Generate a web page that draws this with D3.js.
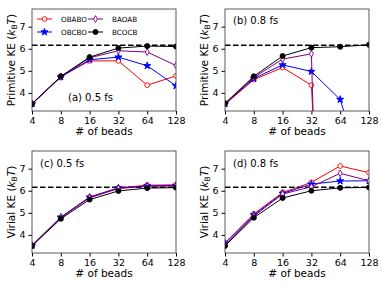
<!DOCTYPE html>
<html>
<head>
<meta charset="utf-8">
<script src="https://cdn.jsdelivr.net/npm/d3@7"></script>
<style>
  body { margin: 0; background: #fff; }
  text { font-family: "DejaVu Sans", sans-serif; fill: #000; }
</style>
</head>
<body>
<svg id="chart" width="382" height="283"></svg>
<script>
var beads = [4, 8, 16, 32, 64, 128];
var xTicks = [4, 8, 16, 32, 64, 128];
var yTicks = [4, 5, 6, 7];
var reference = 6.16;

// primitive KE, 0.5 fs
var primA = {
  OBABO: [3.52, 4.74, 5.45, 5.45, 4.35, 4.77],
  OBCBO: [3.5, 4.72, 5.5, 5.62, 5.23, 4.32],
  BAOAB: [3.5, 4.72, 5.59, 5.91, 5.85, 5.24],
  BCOCB: [3.5, 4.75, 5.62, 6.03, 6.12, 6.1]
};
// primitive KE, 0.8 fs
var primB = {
  OBABO: [3.48, 4.6, 5.15, 4.35, -20, -25],
  OBCBO: [3.5, 4.65, 5.27, 4.97, 3.7, -0.5],
  BAOAB: [3.5, 4.7, 5.53, 5.77, -40, -45],
  BCOCB: [3.53, 4.75, 5.67, 6.05, 6.09, 6.18]
};
// virial KE, 0.5 fs
var virC = {
  OBABO: [3.52, 4.8, 5.72, 6.13, 6.25, 6.27],
  OBCBO: [3.52, 4.8, 5.7, 6.12, 6.22, 6.24],
  BAOAB: [3.52, 4.78, 5.68, 6.1, 6.2, 6.22],
  BCOCB: [3.5, 4.73, 5.6, 5.99, 6.12, 6.14]
};
// virial KE, 0.8 fs
var virD = {
  OBABO: [3.64, 4.95, 5.92, 6.38, 7.12, 6.82],
  OBCBO: [3.62, 4.9, 5.88, 6.3, 6.44, 6.45],
  BAOAB: [3.55, 4.85, 5.85, 6.18, 6.79, 6.45],
  BCOCB: [3.5, 4.78, 5.67, 6.0, 6.13, 6.15]
};

var series = [
  {name: "OBABO", color: "red", sym: d3.symbolCircle, size: 18, filled: false},
  {name: "OBCBO", color: "blue", sym: d3.symbolStar, size: 16, filled: true},
  {name: "BAOAB", color: "purple", sym: d3.symbolDiamond, size: 13, filled: false},
  {name: "BCOCB", color: "black", sym: d3.symbolCircle, size: 20, filled: true}
];

var panels = [
  {data: primA, x: 32, y: 9, label: "(a) 0.5 fs", lx: 36, ly: 92, ylab: "Primitive KE", legend: true},
  {data: primB, x: 225, y: 9, label: "(b) 0.8 fs", lx: 8, ly: 15, ylab: "Primitive KE"},
  {data: virC, x: 32, y: 151, label: "(c) 0.5 fs", lx: 8, ly: 16, ylab: "Virial KE"},
  {data: virD, x: 225, y: 151, label: "(d) 0.8 fs", lx: 8, ly: 16, ylab: "Virial KE"}
];

var W = 144, H = 102;
var svg = d3.select("#chart");

var x = d3.scaleLog().base(2).domain([4, 128]).range([0, W]);
var y = d3.scaleLinear().domain([3.18, 7.8]).range([H, 0]);

panels.forEach(function(p, i) {
  var g = svg.append("g").attr("transform", "translate(" + p.x + "," + p.y + ")");

  g.append("clipPath").attr("id", "clip" + i)
    .append("rect").attr("width", W).attr("height", H);

  var xa = g.append("g").attr("transform", "translate(0," + H + ")")
    .call(d3.axisBottom(x).tickValues(xTicks).tickFormat(d3.format("d")).tickSizeOuter(0).tickSize(3.5));
  var ya = g.append("g")
    .call(d3.axisLeft(y).tickValues(yTicks).tickFormat(d3.format("d")).tickSizeOuter(0).tickSize(3.5));
  [xa, ya].forEach(function(a) {
    a.select(".domain").remove();
    a.selectAll("text").style("font-family", "DejaVu Sans").style("font-size", "9.5px");
  });

  g.append("text").attr("x", W / 2).attr("y", H + 24).attr("text-anchor", "middle")
    .style("font-size", "10.5px").text("# of beads");

  var yl = g.append("text").attr("transform", "translate(-17," + (H / 2) + ") rotate(-90)")
    .attr("text-anchor", "middle").style("font-size", "10.5px");
  yl.append("tspan").text(p.ylab + " (");
  yl.append("tspan").style("font-style", "italic").text("k");
  yl.append("tspan").attr("dy", 2).style("font-size", "7.5px").text("B");
  yl.append("tspan").attr("dy", -2).style("font-style", "italic").text("T");
  yl.append("tspan").text(")");

  var plot = g.append("g").attr("clip-path", "url(#clip" + i + ")");

  plot.append("line")
    .attr("x1", x(4)).attr("x2", x(128))
    .attr("y1", y(reference)).attr("y2", y(reference))
    .attr("stroke", "black").attr("stroke-width", 1.6)
    .attr("stroke-dasharray", "5.5,2.5");

  var line = d3.line().x(function(d, k) { return x(beads[k]); }).y(function(d) { return y(d); });

  series.forEach(function(s) {
    var vals = p.data[s.name];
    plot.append("path").datum(vals).attr("d", line)
      .attr("fill", "none").attr("stroke", s.color).attr("stroke-width", 1);
    plot.selectAll(null).data(vals).enter().append("path")
      .attr("transform", function(d, k) { return "translate(" + x(beads[k]) + "," + y(d) + ")"; })
      .attr("d", d3.symbol().type(s.sym).size(s.size))
      .attr("fill", s.filled ? s.color : "white")
      .attr("stroke", s.color).attr("stroke-width", 0.9);
  });

  g.append("rect").attr("width", W).attr("height", H)
    .attr("fill", "none").attr("stroke", "#333").attr("stroke-width", 0.8);

  g.append("text").attr("x", p.lx).attr("y", p.ly).style("font-size", "10px").text(p.label);

  if (p.legend) {
    var lg = g.append("g").attr("transform", "translate(2,2)");
    lg.append("rect").attr("width", 140).attr("height", 30).attr("rx", 2)
      .attr("fill", "white").attr("fill-opacity", 0.8).attr("stroke", "#eee").attr("stroke-width", 0.8);
    series.forEach(function(s, k) {
      var cx = Math.floor(k / 2) * 51 + 3, cy = 8 + (k % 2) * 13;
      var item = lg.append("g").attr("transform", "translate(" + cx + "," + cy + ")");
      item.append("line").attr("x1", 0).attr("x2", 15).attr("stroke", s.color).attr("stroke-width", 1);
      item.append("path").attr("transform", "translate(7.5,0)")
        .attr("d", d3.symbol().type(s.sym).size(s.size))
        .attr("fill", s.filled ? s.color : "white").attr("stroke", s.color).attr("stroke-width", 0.9);
      item.append("text").attr("x", 24).attr("y", 2.7).style("font-size", "7.2px").text(s.name);
    });
  }
});
</script>
</body>
</html>
